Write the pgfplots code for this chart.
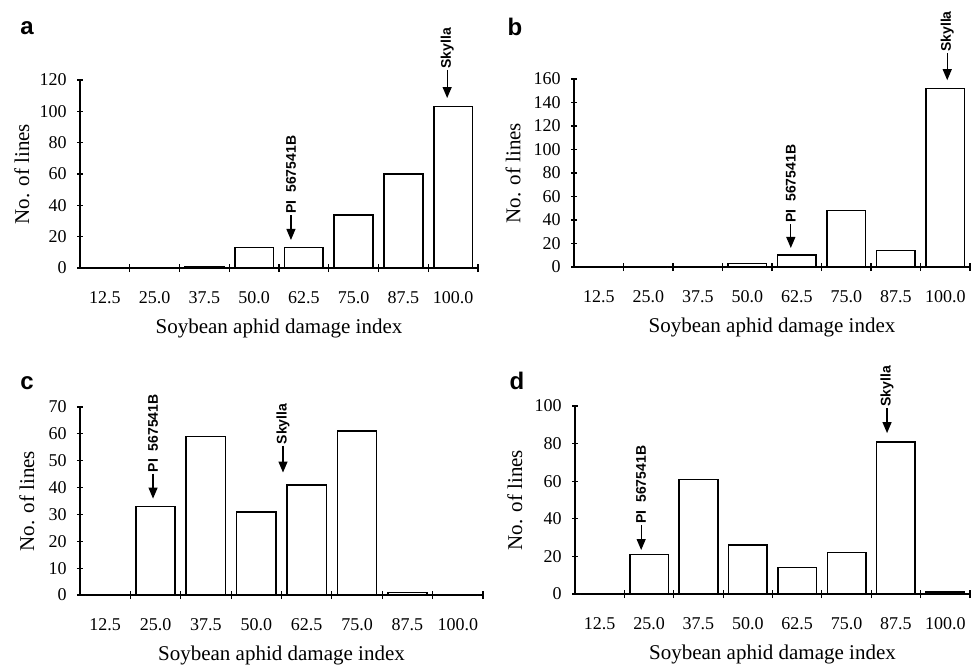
\documentclass[border=0pt]{standalone}
\usepackage{fontspec}
\setmainfont{Liberation Serif}
\newfontfamily\arial{Liberation Sans}
\usepackage{pgfplots}
\pgfplotsset{compat=1.18}
\usetikzlibrary{arrows.meta}

\pgfplotsset{
  damage/.style={
    scale only axis, height=94pt, anchor=south west, clip=false,
    xmin=0, xmax=8, ymin=0,
    axis x line=bottom, axis y line=left,
    axis line style={-, line width=0.7pt},
    xtick={0.5,1.5,...,7.5},
    xticklabels={12.5,25.0,37.5,50.0,62.5,75.0,87.5,100.0},
    major x tick style={draw=none},
    minor xtick={1,...,8},
    tick align=center, major tick length=3pt, minor tick length=4pt,
    tick style={line width=0.6pt, black},
    ticklabel style={font=\fontsize{9}{10}\selectfont},
    /pgf/number format/assume math mode=true,
    xticklabel style={anchor=center, yshift=-13.5pt},
    yticklabel style={anchor=east, inner sep=0pt, xshift=-5pt},
    xlabel={Soybean aphid damage index},
    ylabel={No. of lines},
    label style={font=\fontsize{10.5}{12}\selectfont},
    xlabel style={at={(axis description cs:0.5,-0.319)}, anchor=center},
  },
  bars/.style={ybar, bar width=0.78, fill=white, draw=black, line width=0.8pt},
}
\newcommand{\annot}[4]{%
  \draw[-{Triangle[width=4.5pt,length=5.5pt]}, line width=0.6pt] (axis cs:#1,#2) -- (axis cs:#1,#3);
  \node[rotate=90, anchor=west, inner sep=0.5pt, font=\arial\bfseries\fontsize{7}{8}\selectfont] at (axis cs:#1,#2) {#4};}

\begin{document}
\begin{tikzpicture}
\path[use as bounding box] (0,0) rectangle (486.5pt,-333pt);
\tikzset{letter/.style={font=\arial\bfseries\fontsize{12}{14}\selectfont}}
\node[letter] at (13.5pt,-14pt) {a};
\node[letter] at (257.5pt,-13.5pt) {b};
\node[letter] at (13.5pt,-191.5pt) {c};
\node[letter] at (258.5pt,-190.5pt) {d};

% a
\begin{axis}[damage, at={(40pt,-134pt)}, width=199pt, ymax=120, ytick={0,20,...,120},
  ylabel style={at={(axis description cs:-0.146,0.5)}, anchor=center}]
\addplot[bars] coordinates {(0.5,0) (1.5,0) (2.5,1) (3.5,13) (4.5,13) (5.5,34) (6.5,60) (7.5,103)};
\annot{4.24}{33.8}{17.9}{PI\ \ 567541B}
\annot{7.38}{126.4}{108.5}{Skylla}
\end{axis}

% b
\begin{axis}[damage, at={(287pt,-133.5pt)}, width=198pt, ymax=160, ytick={0,20,...,160},
  ylabel style={at={(axis description cs:-0.154,0.5)}, anchor=center}]
\addplot[bars] coordinates {(0.5,0) (1.5,0) (2.5,0) (3.5,3) (4.5,10) (5.5,48) (6.5,14) (7.5,152)};
\annot{4.38}{36.6}{16.2}{PI\ \ 567541B}
\annot{7.54}{182}{159}{Skylla}
\end{axis}

% c
\begin{axis}[damage, at={(40pt,-297.5pt)}, width=201.5pt, ymax=70, ytick={0,10,...,70},
  ylabel style={at={(axis description cs:-0.132,0.5)}, anchor=center}]
\addplot[bars] coordinates {(0.5,0) (1.5,33) (2.5,59) (3.5,31) (4.5,41) (5.5,61) (6.5,1) (7.5,0)};
\annot{1.45}{45.2}{35.9}{PI\ \ 567541B}
\annot{4.03}{55.6}{45.6}{Skylla}
\end{axis}

% d
\begin{axis}[damage, at={(287.5pt,-297pt)}, width=197.5pt, ymax=100, ytick={0,20,...,100},
  ylabel style={at={(axis description cs:-0.152,0.5)}, anchor=center}]
\addplot[bars] coordinates {(0.5,0) (1.5,21) (2.5,61) (3.5,26) (4.5,14) (5.5,22) (6.5,81) (7.5,1)};
\annot{1.34}{36.7}{23.4}{PI\ \ 567541B}
\annot{6.32}{98.9}{85.6}{Skylla}
\end{axis}
\end{tikzpicture}
\end{document}
